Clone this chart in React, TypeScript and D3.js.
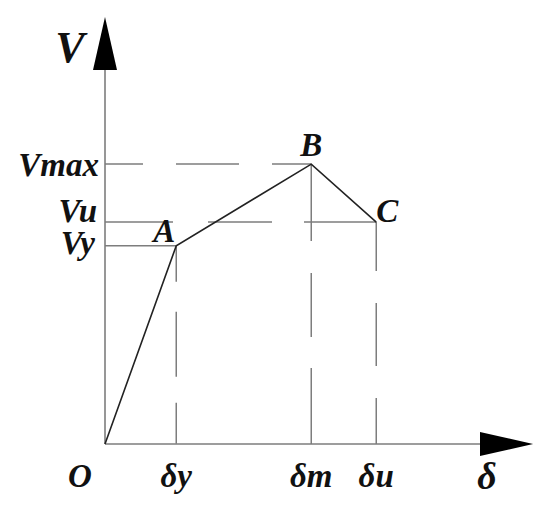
import React from "react"
import * as d3 from "d3"

// skeleton curve points (arbitrary units)
const pointNames = ["O", "A", "B", "C"]
const deltaValues = [0, 1.14, 3.3, 4.34]
const forceValues = [0, 3.18, 4.49, 3.56]

// characteristic levels shown on the axes
const xTickLabels = ["δy", "δm", "δu"]
const xTickValues = [1.14, 3.3, 4.34]
const yTickLabels = ["Vy", "Vu", "Vmax"]
const yTickValues = [3.18, 3.56, 4.49]

const axisMax = 6
const arrowTip = 6.85

const W = 550
const H = 519
const FONT = "'Liberation Serif', 'Times New Roman', serif"
const AXIS = "#7d7d7d"

// per-guide dash patterns (CAD style, centred pattern)
const hDash = ["0", "68 35 64 32 72", "38 33 63 33 63"]
const vDash = ["36 30 65 26 41", "77 32 64 31 76", "49 32 63 32 47"]

// small hand tweaks for the y labels
const yLabelDx = [95, 97, 99]
const yLabelDy = [8, 0, 12]

export default function App() {
  const x = d3.scaleLinear().domain([0, axisMax]).range([105, 480])
  const y = d3.scaleLinear().domain([0, axisMax]).range([444, 70])

  const pts = deltaValues.map((d, i) => [x(d), y(forceValues[i])] as [number, number])
  const curve = d3.line()(pts) || ""

  const x0 = x(0)
  const y0 = y(0)

  // guides: Vy -> A, Vu -> C, Vmax -> B
  const hEnds = [x(deltaValues[1]), x(deltaValues[3]), x(deltaValues[2])]
  const vTops = [y(forceValues[1]), y(forceValues[2]), y(forceValues[3])]

  const labelStyle = {
    fontFamily: FONT,
    fontWeight: "bold" as const,
    fontStyle: "italic" as const,
    fontSize: 33,
    fill: "#111",
  }

  return (
    <svg width={W} height={H} style={{ position: "absolute", left: 0, top: 0 }}>
      <rect width={W} height={H} fill="#fff" />

      {/* dashed guides */}
      {yTickValues.map((v, i) => (
        <line
          key={"h" + i}
          x1={x0}
          x2={hEnds[i]}
          y1={y(v)}
          y2={y(v)}
          stroke={AXIS}
          strokeWidth={1.5}
          strokeDasharray={hDash[i] === "0" ? undefined : hDash[i]}
        />
      ))}
      {xTickValues.map((v, i) => (
        <line
          key={"v" + i}
          x1={x(v)}
          x2={x(v)}
          y1={vTops[i]}
          y2={y0}
          stroke={AXIS}
          strokeWidth={1.5}
          strokeDasharray={vDash[i]}
        />
      ))}

      {/* axes */}
      <line x1={x0} x2={x(axisMax)} y1={y0} y2={y0} stroke={AXIS} strokeWidth={1.6} />
      <line x1={x0} x2={x0} y1={y0} y2={y(axisMax)} stroke={AXIS} strokeWidth={1.6} />
      <path
        d={`M${x(arrowTip)},${y0} L${x(axisMax)},${y0 - 12} L${x(axisMax)},${y0 + 12} Z`}
        fill="#000"
      />
      <path
        d={`M${x0},${y(arrowTip)} L${x0 - 12},${y(axisMax)} L${x0 + 12},${y(axisMax)} Z`}
        fill="#000"
      />

      {/* skeleton curve */}
      <path d={curve} fill="none" stroke="#222" strokeWidth={1.6} strokeLinejoin="miter" />

      {/* point labels */}
      <text x={pts[1][0] - 1} y={pts[1][1] - 4} textAnchor="end" style={labelStyle}>
        {pointNames[1]}
      </text>
      <text x={pts[2][0]} y={pts[2][1] - 8} textAnchor="middle" style={labelStyle}>
        {pointNames[2]}
      </text>
      <text x={pts[3][0]} y={pts[3][1]} textAnchor="start" style={labelStyle}>
        {pointNames[3]}
      </text>
      <text x={80} y={487} textAnchor="middle" style={labelStyle}>
        {pointNames[0]}
      </text>

      {/* y labels */}
      {yTickValues.map((v, i) => (
        <text
          key={"yl" + i}
          x={yLabelDx[i]}
          y={y(v) + yLabelDy[i]}
          textAnchor="end"
          style={labelStyle}
        >
          {yTickLabels[i]}
        </text>
      ))}

      {/* x labels */}
      {xTickValues.map((v, i) => (
        <text key={"xl" + i} x={x(v)} y={487} textAnchor="middle" style={labelStyle}>
          {xTickLabels[i]}
        </text>
      ))}

      {/* axis titles */}
      <text x={70} y={62} textAnchor="middle" style={{ ...labelStyle, fontSize: 44 }}>
        V
      </text>
      <text x={487} y={489} textAnchor="middle" style={{ ...labelStyle, fontSize: 38 }}>
        δ
      </text>
    </svg>
  )
}
